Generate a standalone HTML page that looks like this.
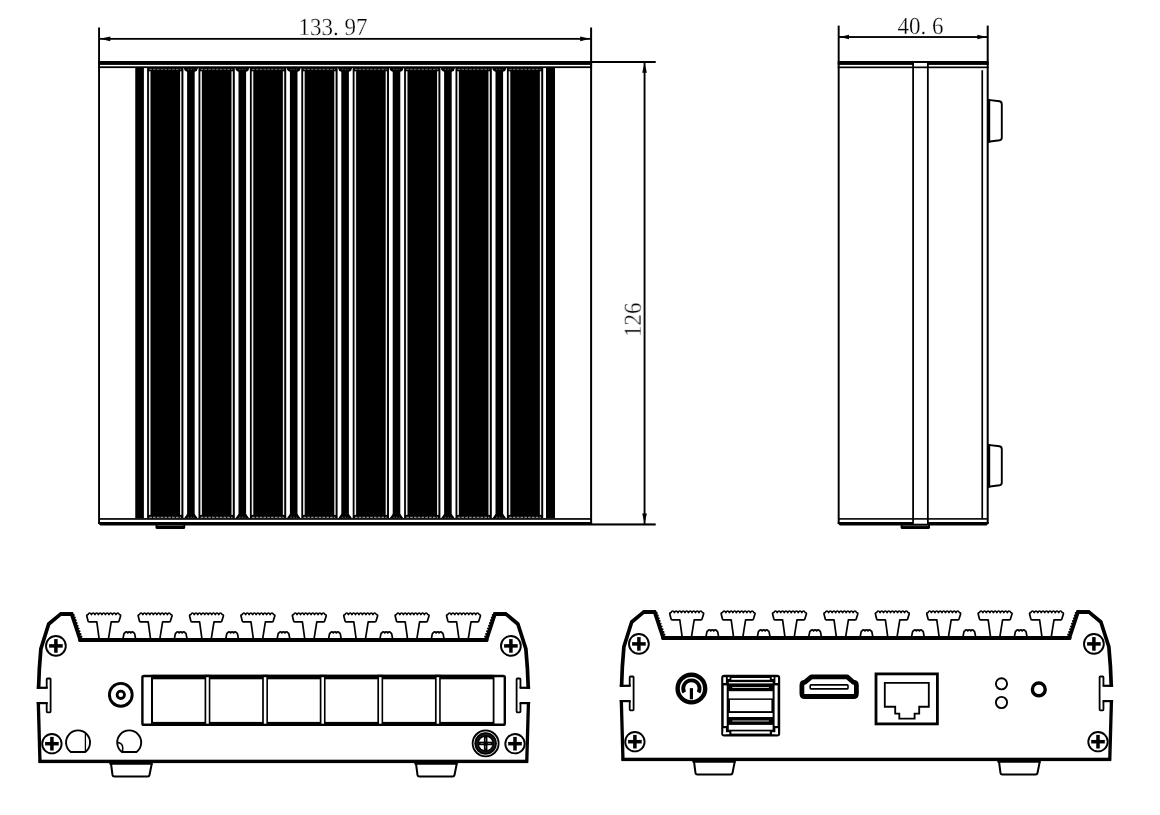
<!DOCTYPE html>
<html lang="en">
<head>
<meta charset="utf-8">
<title>Dimensions</title>
<style>
html,body{margin:0;padding:0;background:#fff;}
body{width:1160px;height:815px;overflow:hidden;position:relative;font-family:"Liberation Serif","Noto Serif CJK SC",serif;}
svg{position:absolute;left:0;top:0;display:block;}
.dim{font-family:"Liberation Serif","Noto Serif CJK SC",serif;fill:#000;stroke:#fff;stroke-width:0.28px;text-rendering:geometricPrecision;}
#txt{filter:grayscale(1);}
</style>
</head>
<body>
<svg width="1160" height="815" viewBox="0 0 1160 815">
<rect width="1160" height="815" fill="#fff"/>
<g transform="translate(0,0)">
<path d="M38.55 688.9 Q39.0 668 40.9 648.8 L48.7 624.0 L60.6 614.05 H71.7 L80.3 640.1 H486.3 L494.9 614.05 H506.0 L517.9 624.0 L525.85 648.8 Q527.75 668 528.3 688.9" fill="none" stroke="#000" stroke-width="3.7" stroke-linejoin="round" stroke-linecap="butt"/>
<path d="M80.0 640.0 H486.6" fill="none" stroke="#000" stroke-width="4.0" stroke-linecap="round"/>
<rect x="59.80" y="612.10" width="13.40" height="2.00" fill="#000" />
<rect x="493.40" y="612.10" width="13.40" height="2.00" fill="#000" />
<rect x="36.80" y="686.70" width="10.90" height="2.20" fill="#000" />
<rect x="36.80" y="702.00" width="10.90" height="2.20" fill="#000" />
<rect x="519.60" y="686.70" width="10.50" height="2.20" fill="#000" />
<rect x="519.60" y="702.00" width="10.50" height="2.20" fill="#000" />
<path d="M38.3 702.0 L40.0 762.8" fill="none" stroke="#000" stroke-width="3.3" />
<path d="M528.45 702.0 L526.75 762.8" fill="none" stroke="#000" stroke-width="3.3" />
<path d="M46.7 688 V679.3 Q46.7 678.5 47.5 678.5 H49.8 Q50.6 678.5 50.6 679.3 V711.6 Q50.6 712.4 49.8 712.4 H47.5 Q46.7 712.4 46.7 711.6 V703" fill="none" stroke="#000" stroke-width="1.8" />
<path d="M520.45 688 V679.3 Q520.45 678.5 519.65 678.5 H517.4 Q516.6 678.5 516.6 679.3 V711.6 Q516.6 712.4 517.4 712.4 H519.65 Q520.45 712.4 520.45 711.6 V703" fill="none" stroke="#000" stroke-width="1.8" />
<circle cx="73.78" cy="614.96" r="1.05" fill="#000" stroke="#000" stroke-width="0"/>
<circle cx="492.82" cy="614.96" r="1.05" fill="#000" stroke="#000" stroke-width="0"/>
<circle cx="74.73" cy="617.67" r="1.05" fill="#000" stroke="#000" stroke-width="0"/>
<circle cx="491.87" cy="617.67" r="1.05" fill="#000" stroke="#000" stroke-width="0"/>
<circle cx="75.69" cy="620.38" r="1.05" fill="#000" stroke="#000" stroke-width="0"/>
<circle cx="490.91" cy="620.38" r="1.05" fill="#000" stroke="#000" stroke-width="0"/>
<circle cx="76.64" cy="623.09" r="1.05" fill="#000" stroke="#000" stroke-width="0"/>
<circle cx="489.96" cy="623.09" r="1.05" fill="#000" stroke="#000" stroke-width="0"/>
<circle cx="77.60" cy="625.80" r="1.05" fill="#000" stroke="#000" stroke-width="0"/>
<circle cx="489.00" cy="625.80" r="1.05" fill="#000" stroke="#000" stroke-width="0"/>
<circle cx="78.56" cy="628.51" r="1.05" fill="#000" stroke="#000" stroke-width="0"/>
<circle cx="488.04" cy="628.51" r="1.05" fill="#000" stroke="#000" stroke-width="0"/>
<circle cx="79.51" cy="631.22" r="1.05" fill="#000" stroke="#000" stroke-width="0"/>
<circle cx="487.09" cy="631.22" r="1.05" fill="#000" stroke="#000" stroke-width="0"/>
<circle cx="80.47" cy="633.93" r="1.05" fill="#000" stroke="#000" stroke-width="0"/>
<circle cx="486.13" cy="633.93" r="1.05" fill="#000" stroke="#000" stroke-width="0"/>
<circle cx="81.42" cy="636.64" r="1.05" fill="#000" stroke="#000" stroke-width="0"/>
<circle cx="485.18" cy="636.64" r="1.05" fill="#000" stroke="#000" stroke-width="0"/>
<rect x="38.60" y="759.70" width="489.40" height="3.40" fill="#000" />
<path d="M99.10 638.6 L96.80 621.8 H89.10 Q88.20 621.8 88.00 620.8 L86.80 616.0 Q86.50 614.7 87.95 614.6 Q89.70 611.40 91.45 614.60 Q93.20 611.40 94.95 614.60 Q96.70 611.40 98.45 614.60 Q100.20 611.40 101.95 614.60 Q103.70 611.40 105.45 614.60 Q107.20 611.40 108.95 614.60 Q110.70 611.40 112.45 614.60 Q114.20 611.40 115.95 614.60 Q117.70 611.40 119.45 614.60 Q120.90 614.7 120.60 616.0 L119.10 620.8 Q118.90 621.8 118.00 621.8 H111.20 L108.50 638.6" fill="none" stroke="#000" stroke-width="1.7" stroke-linejoin="round"/>
<path d="M123.00 638.6 L123.90 634.0 Q124.10 632.9 124.80 632.9 Q126.30 630.90 127.80 632.90 Q129.30 630.90 130.80 632.90 Q132.30 630.90 133.80 632.90 Q134.50 632.9 134.70 634.0 L135.60 638.6" fill="none" stroke="#000" stroke-width="1.7" stroke-linejoin="round"/>
<path d="M150.50 638.6 L148.20 621.8 H140.50 Q139.60 621.8 139.40 620.8 L138.20 616.0 Q137.90 614.7 139.35 614.6 Q141.10 611.40 142.85 614.60 Q144.60 611.40 146.35 614.60 Q148.10 611.40 149.85 614.60 Q151.60 611.40 153.35 614.60 Q155.10 611.40 156.85 614.60 Q158.60 611.40 160.35 614.60 Q162.10 611.40 163.85 614.60 Q165.60 611.40 167.35 614.60 Q169.10 611.40 170.85 614.60 Q172.30 614.7 172.00 616.0 L170.50 620.8 Q170.30 621.8 169.40 621.8 H162.60 L159.90 638.6" fill="none" stroke="#000" stroke-width="1.7" stroke-linejoin="round"/>
<path d="M174.40 638.6 L175.30 634.0 Q175.50 632.9 176.20 632.9 Q177.70 630.90 179.20 632.90 Q180.70 630.90 182.20 632.90 Q183.70 630.90 185.20 632.90 Q185.90 632.9 186.10 634.0 L187.00 638.6" fill="none" stroke="#000" stroke-width="1.7" stroke-linejoin="round"/>
<path d="M201.90 638.6 L199.60 621.8 H191.90 Q191.00 621.8 190.80 620.8 L189.60 616.0 Q189.30 614.7 190.75 614.6 Q192.50 611.40 194.25 614.60 Q196.00 611.40 197.75 614.60 Q199.50 611.40 201.25 614.60 Q203.00 611.40 204.75 614.60 Q206.50 611.40 208.25 614.60 Q210.00 611.40 211.75 614.60 Q213.50 611.40 215.25 614.60 Q217.00 611.40 218.75 614.60 Q220.50 611.40 222.25 614.60 Q223.70 614.7 223.40 616.0 L221.90 620.8 Q221.70 621.8 220.80 621.8 H214.00 L211.30 638.6" fill="none" stroke="#000" stroke-width="1.7" stroke-linejoin="round"/>
<path d="M225.80 638.6 L226.70 634.0 Q226.90 632.9 227.60 632.9 Q229.10 630.90 230.60 632.90 Q232.10 630.90 233.60 632.90 Q235.10 630.90 236.60 632.90 Q237.30 632.9 237.50 634.0 L238.40 638.6" fill="none" stroke="#000" stroke-width="1.7" stroke-linejoin="round"/>
<path d="M253.30 638.6 L251.00 621.8 H243.30 Q242.40 621.8 242.20 620.8 L241.00 616.0 Q240.70 614.7 242.15 614.6 Q243.90 611.40 245.65 614.60 Q247.40 611.40 249.15 614.60 Q250.90 611.40 252.65 614.60 Q254.40 611.40 256.15 614.60 Q257.90 611.40 259.65 614.60 Q261.40 611.40 263.15 614.60 Q264.90 611.40 266.65 614.60 Q268.40 611.40 270.15 614.60 Q271.90 611.40 273.65 614.60 Q275.10 614.7 274.80 616.0 L273.30 620.8 Q273.10 621.8 272.20 621.8 H265.40 L262.70 638.6" fill="none" stroke="#000" stroke-width="1.7" stroke-linejoin="round"/>
<path d="M277.20 638.6 L278.10 634.0 Q278.30 632.9 279.00 632.9 Q280.50 630.90 282.00 632.90 Q283.50 630.90 285.00 632.90 Q286.50 630.90 288.00 632.90 Q288.70 632.9 288.90 634.0 L289.80 638.6" fill="none" stroke="#000" stroke-width="1.7" stroke-linejoin="round"/>
<path d="M304.70 638.6 L302.40 621.8 H294.70 Q293.80 621.8 293.60 620.8 L292.40 616.0 Q292.10 614.7 293.55 614.6 Q295.30 611.40 297.05 614.60 Q298.80 611.40 300.55 614.60 Q302.30 611.40 304.05 614.60 Q305.80 611.40 307.55 614.60 Q309.30 611.40 311.05 614.60 Q312.80 611.40 314.55 614.60 Q316.30 611.40 318.05 614.60 Q319.80 611.40 321.55 614.60 Q323.30 611.40 325.05 614.60 Q326.50 614.7 326.20 616.0 L324.70 620.8 Q324.50 621.8 323.60 621.8 H316.80 L314.10 638.6" fill="none" stroke="#000" stroke-width="1.7" stroke-linejoin="round"/>
<path d="M328.60 638.6 L329.50 634.0 Q329.70 632.9 330.40 632.9 Q331.90 630.90 333.40 632.90 Q334.90 630.90 336.40 632.90 Q337.90 630.90 339.40 632.90 Q340.10 632.9 340.30 634.0 L341.20 638.6" fill="none" stroke="#000" stroke-width="1.7" stroke-linejoin="round"/>
<path d="M356.10 638.6 L353.80 621.8 H346.10 Q345.20 621.8 345.00 620.8 L343.80 616.0 Q343.50 614.7 344.95 614.6 Q346.70 611.40 348.45 614.60 Q350.20 611.40 351.95 614.60 Q353.70 611.40 355.45 614.60 Q357.20 611.40 358.95 614.60 Q360.70 611.40 362.45 614.60 Q364.20 611.40 365.95 614.60 Q367.70 611.40 369.45 614.60 Q371.20 611.40 372.95 614.60 Q374.70 611.40 376.45 614.60 Q377.90 614.7 377.60 616.0 L376.10 620.8 Q375.90 621.8 375.00 621.8 H368.20 L365.50 638.6" fill="none" stroke="#000" stroke-width="1.7" stroke-linejoin="round"/>
<path d="M380.00 638.6 L380.90 634.0 Q381.10 632.9 381.80 632.9 Q383.30 630.90 384.80 632.90 Q386.30 630.90 387.80 632.90 Q389.30 630.90 390.80 632.90 Q391.50 632.9 391.70 634.0 L392.60 638.6" fill="none" stroke="#000" stroke-width="1.7" stroke-linejoin="round"/>
<path d="M407.50 638.6 L405.20 621.8 H397.50 Q396.60 621.8 396.40 620.8 L395.20 616.0 Q394.90 614.7 396.35 614.6 Q398.10 611.40 399.85 614.60 Q401.60 611.40 403.35 614.60 Q405.10 611.40 406.85 614.60 Q408.60 611.40 410.35 614.60 Q412.10 611.40 413.85 614.60 Q415.60 611.40 417.35 614.60 Q419.10 611.40 420.85 614.60 Q422.60 611.40 424.35 614.60 Q426.10 611.40 427.85 614.60 Q429.30 614.7 429.00 616.0 L427.50 620.8 Q427.30 621.8 426.40 621.8 H419.60 L416.90 638.6" fill="none" stroke="#000" stroke-width="1.7" stroke-linejoin="round"/>
<path d="M431.40 638.6 L432.30 634.0 Q432.50 632.9 433.20 632.9 Q434.70 630.90 436.20 632.90 Q437.70 630.90 439.20 632.90 Q440.70 630.90 442.20 632.90 Q442.90 632.9 443.10 634.0 L444.00 638.6" fill="none" stroke="#000" stroke-width="1.7" stroke-linejoin="round"/>
<path d="M458.90 638.6 L456.60 621.8 H448.90 Q448.00 621.8 447.80 620.8 L446.60 616.0 Q446.30 614.7 447.75 614.6 Q449.50 611.40 451.25 614.60 Q453.00 611.40 454.75 614.60 Q456.50 611.40 458.25 614.60 Q460.00 611.40 461.75 614.60 Q463.50 611.40 465.25 614.60 Q467.00 611.40 468.75 614.60 Q470.50 611.40 472.25 614.60 Q474.00 611.40 475.75 614.60 Q477.50 611.40 479.25 614.60 Q480.70 614.7 480.40 616.0 L478.90 620.8 Q478.70 621.8 477.80 621.8 H471.00 L468.30 638.6" fill="none" stroke="#000" stroke-width="1.7" stroke-linejoin="round"/>
<circle cx="55.90" cy="645.90" r="9.90" fill="#fff" stroke="#000" stroke-width="1.9"/>
<rect x="49.10" y="644.15" width="13.60" height="3.50" fill="#000" />
<rect x="54.15" y="639.10" width="3.50" height="13.60" fill="#000" />
<circle cx="51.90" cy="743.70" r="9.70" fill="#fff" stroke="#000" stroke-width="1.9"/>
<rect x="45.10" y="741.95" width="13.60" height="3.50" fill="#000" />
<rect x="50.15" y="736.90" width="3.50" height="13.60" fill="#000" />
<circle cx="510.90" cy="645.90" r="9.90" fill="#fff" stroke="#000" stroke-width="1.9"/>
<rect x="504.10" y="644.15" width="13.60" height="3.50" fill="#000" />
<rect x="509.15" y="639.10" width="3.50" height="13.60" fill="#000" />
<circle cx="515.00" cy="743.70" r="9.70" fill="#fff" stroke="#000" stroke-width="1.9"/>
<rect x="508.20" y="741.95" width="13.60" height="3.50" fill="#000" />
<rect x="513.25" y="736.90" width="3.50" height="13.60" fill="#000" />
<path d="M109.00 762.5 H153.10 L152.40 764.75 H109.70 Z" fill="#000" stroke="#000" stroke-width="0" />
<path d="M111.00 763.5 L112.50 775.0 Q112.80 776.6 114.40 776.6 H147.70 Q149.20 776.6 149.50 775.0 L151.80 763.5" fill="none" stroke="#000" stroke-width="2.0" />
<path d="M414.00 762.5 H458.10 L457.40 764.75 H414.70 Z" fill="#000" stroke="#000" stroke-width="0" />
<path d="M416.00 763.5 L417.50 775.0 Q417.80 776.6 419.40 776.6 H452.70 Q454.20 776.6 454.50 775.0 L456.80 763.5" fill="none" stroke="#000" stroke-width="2.0" />
</g>
<g id="front-left">
<rect x="142.40" y="676.00" width="362.40" height="48.80" rx="1.4" fill="none" stroke="#000" stroke-width="2.4"/>
<rect x="151.60" y="674.80" width="342.00" height="4.50" fill="#000" />
<rect x="151.60" y="721.90" width="342.00" height="4.10" fill="#000" />
<rect x="151.00" y="675.80" width="2.00" height="49.20" fill="#000" />
<rect x="492.70" y="675.80" width="1.80" height="49.20" fill="#000" />
<rect x="204.55" y="674.80" width="5.80" height="51.20" fill="#000" />
<rect x="206.25" y="677.20" width="2.50" height="46.50" fill="#fff" />
<rect x="262.15" y="674.80" width="5.80" height="51.20" fill="#000" />
<rect x="263.85" y="677.20" width="2.50" height="46.50" fill="#fff" />
<rect x="319.75" y="674.80" width="5.80" height="51.20" fill="#000" />
<rect x="321.45" y="677.20" width="2.50" height="46.50" fill="#fff" />
<rect x="377.35" y="674.80" width="5.80" height="51.20" fill="#000" />
<rect x="379.05" y="677.20" width="2.50" height="46.50" fill="#fff" />
<rect x="434.95" y="674.80" width="5.80" height="51.20" fill="#000" />
<rect x="436.65" y="677.20" width="2.50" height="46.50" fill="#fff" />
<circle cx="120.80" cy="694.80" r="11.40" fill="none" stroke="#000" stroke-width="2.9"/>
<circle cx="120.80" cy="694.80" r="3.70" fill="none" stroke="#000" stroke-width="2.8"/>
<path d="M70.78 751.95 A12.0 12.0 0 1 1 85.32 751.95 Z" fill="none" stroke="#000" stroke-width="1.9" />
<path d="M121.93 751.95 A12.0 12.0 0 1 1 136.47 751.95 Z" fill="none" stroke="#000" stroke-width="1.9" />
<path d="M85.4 733.4 V752.0" fill="none" stroke="#000" stroke-width="1.3" />
<path d="M117.5 742.4 Q122.5 742.9 122.75 747.6 L122.55 751.9" fill="none" stroke="#000" stroke-width="1.5" />
<circle cx="485.65" cy="743.45" r="13.90" fill="#000" stroke="#000" stroke-width="0"/>
<circle cx="485.65" cy="743.45" r="11.75" fill="none" stroke="#000" stroke-width="0"/>
<circle cx="485.65" cy="743.45" r="11.75" fill="none" stroke="#f4f4f4" stroke-width="0.9"/>
<circle cx="485.65" cy="743.45" r="8.9" fill="none" stroke="#444" stroke-width="0.5"/>
<circle cx="485.65" cy="743.45" r="6.8" fill="#fff"/>
<rect x="478.45" y="741.65" width="14.40" height="3.60" fill="#000" />
<rect x="483.85" y="736.25" width="3.60" height="14.40" fill="#000" />
<rect x="480.65" y="743.10" width="2.80" height="0.70" fill="#8a8a8a" />
<rect x="487.85" y="743.10" width="2.80" height="0.70" fill="#8a8a8a" />
<rect x="485.30" y="738.45" width="0.70" height="2.80" fill="#8a8a8a" />
<rect x="485.30" y="745.65" width="0.70" height="2.80" fill="#8a8a8a" />
</g>
<g transform="translate(583.0,-2.0)">
<path d="M38.55 688.9 Q39.0 668 40.9 648.8 L48.7 624.0 L60.6 614.05 H71.7 L80.3 640.1 H486.3 L494.9 614.05 H506.0 L517.9 624.0 L525.85 648.8 Q527.75 668 528.3 688.9" fill="none" stroke="#000" stroke-width="3.7" stroke-linejoin="round" stroke-linecap="butt"/>
<path d="M80.0 640.0 H486.6" fill="none" stroke="#000" stroke-width="4.0" stroke-linecap="round"/>
<rect x="59.80" y="612.10" width="13.40" height="2.00" fill="#000" />
<rect x="493.40" y="612.10" width="13.40" height="2.00" fill="#000" />
<rect x="36.80" y="686.70" width="10.90" height="2.20" fill="#000" />
<rect x="36.80" y="702.00" width="10.90" height="2.20" fill="#000" />
<rect x="519.60" y="686.70" width="10.50" height="2.20" fill="#000" />
<rect x="519.60" y="702.00" width="10.50" height="2.20" fill="#000" />
<path d="M38.3 702.0 L40.0 762.8" fill="none" stroke="#000" stroke-width="3.3" />
<path d="M528.45 702.0 L526.75 762.8" fill="none" stroke="#000" stroke-width="3.3" />
<path d="M46.7 688 V679.3 Q46.7 678.5 47.5 678.5 H49.8 Q50.6 678.5 50.6 679.3 V711.6 Q50.6 712.4 49.8 712.4 H47.5 Q46.7 712.4 46.7 711.6 V703" fill="none" stroke="#000" stroke-width="1.8" />
<path d="M520.45 688 V679.3 Q520.45 678.5 519.65 678.5 H517.4 Q516.6 678.5 516.6 679.3 V711.6 Q516.6 712.4 517.4 712.4 H519.65 Q520.45 712.4 520.45 711.6 V703" fill="none" stroke="#000" stroke-width="1.8" />
<circle cx="73.78" cy="614.96" r="1.05" fill="#000" stroke="#000" stroke-width="0"/>
<circle cx="492.82" cy="614.96" r="1.05" fill="#000" stroke="#000" stroke-width="0"/>
<circle cx="74.73" cy="617.67" r="1.05" fill="#000" stroke="#000" stroke-width="0"/>
<circle cx="491.87" cy="617.67" r="1.05" fill="#000" stroke="#000" stroke-width="0"/>
<circle cx="75.69" cy="620.38" r="1.05" fill="#000" stroke="#000" stroke-width="0"/>
<circle cx="490.91" cy="620.38" r="1.05" fill="#000" stroke="#000" stroke-width="0"/>
<circle cx="76.64" cy="623.09" r="1.05" fill="#000" stroke="#000" stroke-width="0"/>
<circle cx="489.96" cy="623.09" r="1.05" fill="#000" stroke="#000" stroke-width="0"/>
<circle cx="77.60" cy="625.80" r="1.05" fill="#000" stroke="#000" stroke-width="0"/>
<circle cx="489.00" cy="625.80" r="1.05" fill="#000" stroke="#000" stroke-width="0"/>
<circle cx="78.56" cy="628.51" r="1.05" fill="#000" stroke="#000" stroke-width="0"/>
<circle cx="488.04" cy="628.51" r="1.05" fill="#000" stroke="#000" stroke-width="0"/>
<circle cx="79.51" cy="631.22" r="1.05" fill="#000" stroke="#000" stroke-width="0"/>
<circle cx="487.09" cy="631.22" r="1.05" fill="#000" stroke="#000" stroke-width="0"/>
<circle cx="80.47" cy="633.93" r="1.05" fill="#000" stroke="#000" stroke-width="0"/>
<circle cx="486.13" cy="633.93" r="1.05" fill="#000" stroke="#000" stroke-width="0"/>
<circle cx="81.42" cy="636.64" r="1.05" fill="#000" stroke="#000" stroke-width="0"/>
<circle cx="485.18" cy="636.64" r="1.05" fill="#000" stroke="#000" stroke-width="0"/>
<rect x="38.60" y="759.70" width="489.40" height="3.40" fill="#000" />
<path d="M99.10 638.6 L96.80 621.8 H89.10 Q88.20 621.8 88.00 620.8 L86.80 616.0 Q86.50 614.7 87.95 614.6 Q89.70 611.40 91.45 614.60 Q93.20 611.40 94.95 614.60 Q96.70 611.40 98.45 614.60 Q100.20 611.40 101.95 614.60 Q103.70 611.40 105.45 614.60 Q107.20 611.40 108.95 614.60 Q110.70 611.40 112.45 614.60 Q114.20 611.40 115.95 614.60 Q117.70 611.40 119.45 614.60 Q120.90 614.7 120.60 616.0 L119.10 620.8 Q118.90 621.8 118.00 621.8 H111.20 L108.50 638.6" fill="none" stroke="#000" stroke-width="1.7" stroke-linejoin="round"/>
<path d="M123.00 638.6 L123.90 634.0 Q124.10 632.9 124.80 632.9 Q126.30 630.90 127.80 632.90 Q129.30 630.90 130.80 632.90 Q132.30 630.90 133.80 632.90 Q134.50 632.9 134.70 634.0 L135.60 638.6" fill="none" stroke="#000" stroke-width="1.7" stroke-linejoin="round"/>
<path d="M150.50 638.6 L148.20 621.8 H140.50 Q139.60 621.8 139.40 620.8 L138.20 616.0 Q137.90 614.7 139.35 614.6 Q141.10 611.40 142.85 614.60 Q144.60 611.40 146.35 614.60 Q148.10 611.40 149.85 614.60 Q151.60 611.40 153.35 614.60 Q155.10 611.40 156.85 614.60 Q158.60 611.40 160.35 614.60 Q162.10 611.40 163.85 614.60 Q165.60 611.40 167.35 614.60 Q169.10 611.40 170.85 614.60 Q172.30 614.7 172.00 616.0 L170.50 620.8 Q170.30 621.8 169.40 621.8 H162.60 L159.90 638.6" fill="none" stroke="#000" stroke-width="1.7" stroke-linejoin="round"/>
<path d="M174.40 638.6 L175.30 634.0 Q175.50 632.9 176.20 632.9 Q177.70 630.90 179.20 632.90 Q180.70 630.90 182.20 632.90 Q183.70 630.90 185.20 632.90 Q185.90 632.9 186.10 634.0 L187.00 638.6" fill="none" stroke="#000" stroke-width="1.7" stroke-linejoin="round"/>
<path d="M201.90 638.6 L199.60 621.8 H191.90 Q191.00 621.8 190.80 620.8 L189.60 616.0 Q189.30 614.7 190.75 614.6 Q192.50 611.40 194.25 614.60 Q196.00 611.40 197.75 614.60 Q199.50 611.40 201.25 614.60 Q203.00 611.40 204.75 614.60 Q206.50 611.40 208.25 614.60 Q210.00 611.40 211.75 614.60 Q213.50 611.40 215.25 614.60 Q217.00 611.40 218.75 614.60 Q220.50 611.40 222.25 614.60 Q223.70 614.7 223.40 616.0 L221.90 620.8 Q221.70 621.8 220.80 621.8 H214.00 L211.30 638.6" fill="none" stroke="#000" stroke-width="1.7" stroke-linejoin="round"/>
<path d="M225.80 638.6 L226.70 634.0 Q226.90 632.9 227.60 632.9 Q229.10 630.90 230.60 632.90 Q232.10 630.90 233.60 632.90 Q235.10 630.90 236.60 632.90 Q237.30 632.9 237.50 634.0 L238.40 638.6" fill="none" stroke="#000" stroke-width="1.7" stroke-linejoin="round"/>
<path d="M253.30 638.6 L251.00 621.8 H243.30 Q242.40 621.8 242.20 620.8 L241.00 616.0 Q240.70 614.7 242.15 614.6 Q243.90 611.40 245.65 614.60 Q247.40 611.40 249.15 614.60 Q250.90 611.40 252.65 614.60 Q254.40 611.40 256.15 614.60 Q257.90 611.40 259.65 614.60 Q261.40 611.40 263.15 614.60 Q264.90 611.40 266.65 614.60 Q268.40 611.40 270.15 614.60 Q271.90 611.40 273.65 614.60 Q275.10 614.7 274.80 616.0 L273.30 620.8 Q273.10 621.8 272.20 621.8 H265.40 L262.70 638.6" fill="none" stroke="#000" stroke-width="1.7" stroke-linejoin="round"/>
<path d="M277.20 638.6 L278.10 634.0 Q278.30 632.9 279.00 632.9 Q280.50 630.90 282.00 632.90 Q283.50 630.90 285.00 632.90 Q286.50 630.90 288.00 632.90 Q288.70 632.9 288.90 634.0 L289.80 638.6" fill="none" stroke="#000" stroke-width="1.7" stroke-linejoin="round"/>
<path d="M304.70 638.6 L302.40 621.8 H294.70 Q293.80 621.8 293.60 620.8 L292.40 616.0 Q292.10 614.7 293.55 614.6 Q295.30 611.40 297.05 614.60 Q298.80 611.40 300.55 614.60 Q302.30 611.40 304.05 614.60 Q305.80 611.40 307.55 614.60 Q309.30 611.40 311.05 614.60 Q312.80 611.40 314.55 614.60 Q316.30 611.40 318.05 614.60 Q319.80 611.40 321.55 614.60 Q323.30 611.40 325.05 614.60 Q326.50 614.7 326.20 616.0 L324.70 620.8 Q324.50 621.8 323.60 621.8 H316.80 L314.10 638.6" fill="none" stroke="#000" stroke-width="1.7" stroke-linejoin="round"/>
<path d="M328.60 638.6 L329.50 634.0 Q329.70 632.9 330.40 632.9 Q331.90 630.90 333.40 632.90 Q334.90 630.90 336.40 632.90 Q337.90 630.90 339.40 632.90 Q340.10 632.9 340.30 634.0 L341.20 638.6" fill="none" stroke="#000" stroke-width="1.7" stroke-linejoin="round"/>
<path d="M356.10 638.6 L353.80 621.8 H346.10 Q345.20 621.8 345.00 620.8 L343.80 616.0 Q343.50 614.7 344.95 614.6 Q346.70 611.40 348.45 614.60 Q350.20 611.40 351.95 614.60 Q353.70 611.40 355.45 614.60 Q357.20 611.40 358.95 614.60 Q360.70 611.40 362.45 614.60 Q364.20 611.40 365.95 614.60 Q367.70 611.40 369.45 614.60 Q371.20 611.40 372.95 614.60 Q374.70 611.40 376.45 614.60 Q377.90 614.7 377.60 616.0 L376.10 620.8 Q375.90 621.8 375.00 621.8 H368.20 L365.50 638.6" fill="none" stroke="#000" stroke-width="1.7" stroke-linejoin="round"/>
<path d="M380.00 638.6 L380.90 634.0 Q381.10 632.9 381.80 632.9 Q383.30 630.90 384.80 632.90 Q386.30 630.90 387.80 632.90 Q389.30 630.90 390.80 632.90 Q391.50 632.9 391.70 634.0 L392.60 638.6" fill="none" stroke="#000" stroke-width="1.7" stroke-linejoin="round"/>
<path d="M407.50 638.6 L405.20 621.8 H397.50 Q396.60 621.8 396.40 620.8 L395.20 616.0 Q394.90 614.7 396.35 614.6 Q398.10 611.40 399.85 614.60 Q401.60 611.40 403.35 614.60 Q405.10 611.40 406.85 614.60 Q408.60 611.40 410.35 614.60 Q412.10 611.40 413.85 614.60 Q415.60 611.40 417.35 614.60 Q419.10 611.40 420.85 614.60 Q422.60 611.40 424.35 614.60 Q426.10 611.40 427.85 614.60 Q429.30 614.7 429.00 616.0 L427.50 620.8 Q427.30 621.8 426.40 621.8 H419.60 L416.90 638.6" fill="none" stroke="#000" stroke-width="1.7" stroke-linejoin="round"/>
<path d="M431.40 638.6 L432.30 634.0 Q432.50 632.9 433.20 632.9 Q434.70 630.90 436.20 632.90 Q437.70 630.90 439.20 632.90 Q440.70 630.90 442.20 632.90 Q442.90 632.9 443.10 634.0 L444.00 638.6" fill="none" stroke="#000" stroke-width="1.7" stroke-linejoin="round"/>
<path d="M458.90 638.6 L456.60 621.8 H448.90 Q448.00 621.8 447.80 620.8 L446.60 616.0 Q446.30 614.7 447.75 614.6 Q449.50 611.40 451.25 614.60 Q453.00 611.40 454.75 614.60 Q456.50 611.40 458.25 614.60 Q460.00 611.40 461.75 614.60 Q463.50 611.40 465.25 614.60 Q467.00 611.40 468.75 614.60 Q470.50 611.40 472.25 614.60 Q474.00 611.40 475.75 614.60 Q477.50 611.40 479.25 614.60 Q480.70 614.7 480.40 616.0 L478.90 620.8 Q478.70 621.8 477.80 621.8 H471.00 L468.30 638.6" fill="none" stroke="#000" stroke-width="1.7" stroke-linejoin="round"/>
<circle cx="55.90" cy="645.90" r="9.90" fill="#fff" stroke="#000" stroke-width="1.9"/>
<rect x="49.10" y="644.15" width="13.60" height="3.50" fill="#000" />
<rect x="54.15" y="639.10" width="3.50" height="13.60" fill="#000" />
<circle cx="51.90" cy="743.70" r="9.70" fill="#fff" stroke="#000" stroke-width="1.9"/>
<rect x="45.10" y="741.95" width="13.60" height="3.50" fill="#000" />
<rect x="50.15" y="736.90" width="3.50" height="13.60" fill="#000" />
<circle cx="510.90" cy="645.90" r="9.90" fill="#fff" stroke="#000" stroke-width="1.9"/>
<rect x="504.10" y="644.15" width="13.60" height="3.50" fill="#000" />
<rect x="509.15" y="639.10" width="3.50" height="13.60" fill="#000" />
<circle cx="515.00" cy="743.70" r="9.70" fill="#fff" stroke="#000" stroke-width="1.9"/>
<rect x="508.20" y="741.95" width="13.60" height="3.50" fill="#000" />
<rect x="513.25" y="736.90" width="3.50" height="13.60" fill="#000" />
<path d="M109.00 762.5 H153.10 L152.40 764.75 H109.70 Z" fill="#000" stroke="#000" stroke-width="0" />
<path d="M111.00 763.5 L112.50 775.0 Q112.80 776.6 114.40 776.6 H147.70 Q149.20 776.6 149.50 775.0 L151.80 763.5" fill="none" stroke="#000" stroke-width="2.0" />
<path d="M414.00 762.5 H458.10 L457.40 764.75 H414.70 Z" fill="#000" stroke="#000" stroke-width="0" />
<path d="M416.00 763.5 L417.50 775.0 Q417.80 776.6 419.40 776.6 H452.70 Q454.20 776.6 454.50 775.0 L456.80 763.5" fill="none" stroke="#000" stroke-width="2.0" />
</g>
<g id="front-right">
<circle cx="691.40" cy="688.55" r="13.80" fill="none" stroke="#000" stroke-width="4.4"/>
<path d="M684.23 692.53 A8.2 8.2 0 1 1 698.57 692.53" fill="none" stroke="#000" stroke-width="3.8" />
<rect x="689.80" y="688.15" width="3.20" height="11.20" fill="#000" />
<rect x="722.2" y="675.8" width="57.0" height="59.80000000000007" rx="2" fill="#000" stroke="#000" stroke-width="2"/>
<rect x="723.30" y="677.20" width="2.60" height="5.80" fill="#fff" />
<rect x="775.40" y="677.20" width="2.60" height="5.80" fill="#fff" />
<rect x="727.80" y="677.20" width="1.80" height="1.80" fill="#fff" />
<rect x="771.80" y="677.20" width="1.80" height="1.80" fill="#fff" />
<rect x="723.70" y="685.40" width="3.00" height="40.60" fill="#fff" />
<rect x="774.60" y="685.40" width="3.00" height="40.60" fill="#fff" />
<rect x="723.30" y="728.20" width="2.60" height="6.00" fill="#fff" />
<rect x="775.40" y="728.20" width="2.60" height="6.00" fill="#fff" />
<rect x="723.30" y="732.20" width="6.00" height="2.00" fill="#fff" />
<rect x="772.00" y="732.20" width="6.00" height="2.00" fill="#fff" />
<rect x="731.40" y="678.00" width="38.40" height="1.80" fill="#fff" />
<rect x="731.40" y="731.40" width="38.40" height="2.20" fill="#fff" />
<rect x="728.80" y="682.10" width="43.80" height="1.30" fill="#fff" />
<rect x="732.30" y="687.10" width="36.60" height="0.90" fill="#ddd" />
<rect x="728.80" y="691.20" width="43.80" height="7.20" fill="#fff" />
<rect x="730.00" y="699.90" width="41.40" height="11.20" fill="#fff" />
<rect x="728.80" y="713.00" width="43.80" height="4.00" fill="#fff" />
<rect x="732.30" y="720.30" width="36.60" height="1.30" fill="#999" />
<rect x="728.80" y="724.90" width="43.80" height="4.80" fill="#fff" />
<path d="M811.4 676.9 H847.2 L853.4 682.2 Q856.4 682.4 856.4 685.4 V693.4 Q856.4 696.5 853.4 696.5 H805.0 Q801.9 696.5 801.9 693.4 V685.4 Q801.9 682.4 805.0 682.2 Z" fill="none" stroke="#000" stroke-width="4.8" stroke-linejoin="round"/>
<rect x="810.2" y="684.9" width="37.8" height="4.0" rx="0.8" fill="#fff" stroke="#000" stroke-width="1.6"/>
<rect x="876.0" y="673.9" width="61.4" height="50.0" fill="none" stroke="#000" stroke-width="2.8"/>
<path d="M884.8 682.9 H928.8 V706.7 H919.2 V713.6 H914.6 V718.6 H899.3 V713.6 H895.2 V706.7 H884.8 Z" fill="none" stroke="#000" stroke-width="1.85" />
<circle cx="1001.50" cy="683.80" r="5.60" fill="none" stroke="#000" stroke-width="1.9"/>
<circle cx="1001.50" cy="702.50" r="5.60" fill="none" stroke="#000" stroke-width="1.9"/>
<circle cx="1038.80" cy="689.40" r="6.40" fill="none" stroke="#000" stroke-width="3.4"/>
</g>
<g id="top-view">
<rect x="98.10" y="27.50" width="1.90" height="496.50" fill="#000" />
<rect x="590.10" y="27.50" width="2.00" height="497.50" fill="#000" />
<rect x="99.00" y="37.95" width="492.00" height="1.80" fill="#000" />
<polygon points="100.00,38.85 110.30,36.40 110.30,41.30" fill="#000"/>
<polygon points="590.00,38.85 580.20,36.40 580.20,41.30" fill="#000"/>
<rect x="98.10" y="61.00" width="494.00" height="3.90" fill="#000" />
<rect x="98.10" y="66.30" width="494.00" height="1.80" fill="#000" />
<rect x="99.00" y="518.10" width="492.00" height="1.70" fill="#000" />
<path d="M98.1 521.9 H592.1 V525.5 H100.3 L98.1 523.6 Z" fill="#000" stroke="#000" stroke-width="0" />
<path d="M155.5 525 H185.2 V527.4 Q185.2 529 183.6 529 H157.1 Q155.5 529 155.5 527.4 Z" fill="#000" stroke="#000" stroke-width="0" />
<rect x="157.60" y="525.40" width="25.60" height="0.50" fill="#999" />
<rect x="135.25" y="68.00" width="8.65" height="450.20" fill="#000" />
<rect x="546.00" y="68.00" width="9.00" height="450.20" fill="#000" />
<rect x="147.10" y="68.00" width="36.30" height="450.20" fill="#000" />
<rect x="148.90" y="71.30" width="1.60" height="443.60" fill="#ececec" />
<rect x="180.05" y="71.30" width="1.40" height="443.60" fill="#ececec" />
<line x1="149.30" y1="69.3" x2="181.00" y2="69.3" stroke="#ccc" stroke-width="0.6" stroke-dasharray="2.6 1.2"/>
<line x1="149.30" y1="517.3" x2="181.00" y2="517.3" stroke="#ddd" stroke-width="0.8" stroke-dasharray="2.6 1.2"/>
<rect x="187.10" y="68.00" width="7.60" height="450.20" fill="#000" />
<path d="M183.80 68.0 H198.00 Q197.50 71.2 194.70 71.8 H187.10 Q184.30 71.2 183.80 68.0 Z" fill="#000" stroke="#000" stroke-width="0" />
<line x1="187.70" y1="69.3" x2="194.10" y2="69.3" stroke="#aaa" stroke-width="0.5" stroke-dasharray="1.4 1.4"/>
<path d="M184.10 518.2 H197.70 L194.70 514 H187.10 Z" fill="#000" stroke="#000" stroke-width="0" />
<line x1="187.70" y1="517.3" x2="194.10" y2="517.3" stroke="#aaa" stroke-width="0.6" stroke-dasharray="1.4 1.4"/>
<rect x="198.50" y="68.00" width="36.30" height="450.20" fill="#000" />
<rect x="200.30" y="71.30" width="1.60" height="443.60" fill="#ececec" />
<rect x="231.45" y="71.30" width="1.40" height="443.60" fill="#ececec" />
<line x1="200.70" y1="69.3" x2="232.40" y2="69.3" stroke="#ccc" stroke-width="0.6" stroke-dasharray="2.6 1.2"/>
<line x1="200.70" y1="517.3" x2="232.40" y2="517.3" stroke="#ddd" stroke-width="0.8" stroke-dasharray="2.6 1.2"/>
<rect x="238.50" y="68.00" width="7.60" height="450.20" fill="#000" />
<path d="M235.20 68.0 H249.40 Q248.90 71.2 246.10 71.8 H238.50 Q235.70 71.2 235.20 68.0 Z" fill="#000" stroke="#000" stroke-width="0" />
<line x1="239.10" y1="69.3" x2="245.50" y2="69.3" stroke="#aaa" stroke-width="0.5" stroke-dasharray="1.4 1.4"/>
<path d="M235.50 518.2 H249.10 L246.10 514 H238.50 Z" fill="#000" stroke="#000" stroke-width="0" />
<line x1="239.10" y1="517.3" x2="245.50" y2="517.3" stroke="#aaa" stroke-width="0.6" stroke-dasharray="1.4 1.4"/>
<rect x="249.90" y="68.00" width="36.30" height="450.20" fill="#000" />
<rect x="251.70" y="71.30" width="1.60" height="443.60" fill="#ececec" />
<rect x="282.85" y="71.30" width="1.40" height="443.60" fill="#ececec" />
<line x1="252.10" y1="69.3" x2="283.80" y2="69.3" stroke="#ccc" stroke-width="0.6" stroke-dasharray="2.6 1.2"/>
<line x1="252.10" y1="517.3" x2="283.80" y2="517.3" stroke="#ddd" stroke-width="0.8" stroke-dasharray="2.6 1.2"/>
<rect x="289.90" y="68.00" width="7.60" height="450.20" fill="#000" />
<path d="M286.60 68.0 H300.80 Q300.30 71.2 297.50 71.8 H289.90 Q287.10 71.2 286.60 68.0 Z" fill="#000" stroke="#000" stroke-width="0" />
<line x1="290.50" y1="69.3" x2="296.90" y2="69.3" stroke="#aaa" stroke-width="0.5" stroke-dasharray="1.4 1.4"/>
<path d="M286.90 518.2 H300.50 L297.50 514 H289.90 Z" fill="#000" stroke="#000" stroke-width="0" />
<line x1="290.50" y1="517.3" x2="296.90" y2="517.3" stroke="#aaa" stroke-width="0.6" stroke-dasharray="1.4 1.4"/>
<rect x="301.30" y="68.00" width="36.30" height="450.20" fill="#000" />
<rect x="303.10" y="71.30" width="1.60" height="443.60" fill="#ececec" />
<rect x="334.25" y="71.30" width="1.40" height="443.60" fill="#ececec" />
<line x1="303.50" y1="69.3" x2="335.20" y2="69.3" stroke="#ccc" stroke-width="0.6" stroke-dasharray="2.6 1.2"/>
<line x1="303.50" y1="517.3" x2="335.20" y2="517.3" stroke="#ddd" stroke-width="0.8" stroke-dasharray="2.6 1.2"/>
<rect x="341.30" y="68.00" width="7.60" height="450.20" fill="#000" />
<path d="M338.00 68.0 H352.20 Q351.70 71.2 348.90 71.8 H341.30 Q338.50 71.2 338.00 68.0 Z" fill="#000" stroke="#000" stroke-width="0" />
<line x1="341.90" y1="69.3" x2="348.30" y2="69.3" stroke="#aaa" stroke-width="0.5" stroke-dasharray="1.4 1.4"/>
<path d="M338.30 518.2 H351.90 L348.90 514 H341.30 Z" fill="#000" stroke="#000" stroke-width="0" />
<line x1="341.90" y1="517.3" x2="348.30" y2="517.3" stroke="#aaa" stroke-width="0.6" stroke-dasharray="1.4 1.4"/>
<rect x="352.70" y="68.00" width="36.30" height="450.20" fill="#000" />
<rect x="354.50" y="71.30" width="1.60" height="443.60" fill="#ececec" />
<rect x="385.65" y="71.30" width="1.40" height="443.60" fill="#ececec" />
<line x1="354.90" y1="69.3" x2="386.60" y2="69.3" stroke="#ccc" stroke-width="0.6" stroke-dasharray="2.6 1.2"/>
<line x1="354.90" y1="517.3" x2="386.60" y2="517.3" stroke="#ddd" stroke-width="0.8" stroke-dasharray="2.6 1.2"/>
<rect x="392.70" y="68.00" width="7.60" height="450.20" fill="#000" />
<path d="M389.40 68.0 H403.60 Q403.10 71.2 400.30 71.8 H392.70 Q389.90 71.2 389.40 68.0 Z" fill="#000" stroke="#000" stroke-width="0" />
<line x1="393.30" y1="69.3" x2="399.70" y2="69.3" stroke="#aaa" stroke-width="0.5" stroke-dasharray="1.4 1.4"/>
<path d="M389.70 518.2 H403.30 L400.30 514 H392.70 Z" fill="#000" stroke="#000" stroke-width="0" />
<line x1="393.30" y1="517.3" x2="399.70" y2="517.3" stroke="#aaa" stroke-width="0.6" stroke-dasharray="1.4 1.4"/>
<rect x="404.10" y="68.00" width="36.30" height="450.20" fill="#000" />
<rect x="405.90" y="71.30" width="1.60" height="443.60" fill="#ececec" />
<rect x="437.05" y="71.30" width="1.40" height="443.60" fill="#ececec" />
<line x1="406.30" y1="69.3" x2="438.00" y2="69.3" stroke="#ccc" stroke-width="0.6" stroke-dasharray="2.6 1.2"/>
<line x1="406.30" y1="517.3" x2="438.00" y2="517.3" stroke="#ddd" stroke-width="0.8" stroke-dasharray="2.6 1.2"/>
<rect x="444.10" y="68.00" width="7.60" height="450.20" fill="#000" />
<path d="M440.80 68.0 H455.00 Q454.50 71.2 451.70 71.8 H444.10 Q441.30 71.2 440.80 68.0 Z" fill="#000" stroke="#000" stroke-width="0" />
<line x1="444.70" y1="69.3" x2="451.10" y2="69.3" stroke="#aaa" stroke-width="0.5" stroke-dasharray="1.4 1.4"/>
<path d="M441.10 518.2 H454.70 L451.70 514 H444.10 Z" fill="#000" stroke="#000" stroke-width="0" />
<line x1="444.70" y1="517.3" x2="451.10" y2="517.3" stroke="#aaa" stroke-width="0.6" stroke-dasharray="1.4 1.4"/>
<rect x="455.50" y="68.00" width="36.30" height="450.20" fill="#000" />
<rect x="457.30" y="71.30" width="1.60" height="443.60" fill="#ececec" />
<rect x="488.45" y="71.30" width="1.40" height="443.60" fill="#ececec" />
<line x1="457.70" y1="69.3" x2="489.40" y2="69.3" stroke="#ccc" stroke-width="0.6" stroke-dasharray="2.6 1.2"/>
<line x1="457.70" y1="517.3" x2="489.40" y2="517.3" stroke="#ddd" stroke-width="0.8" stroke-dasharray="2.6 1.2"/>
<rect x="495.50" y="68.00" width="7.60" height="450.20" fill="#000" />
<path d="M492.20 68.0 H506.40 Q505.90 71.2 503.10 71.8 H495.50 Q492.70 71.2 492.20 68.0 Z" fill="#000" stroke="#000" stroke-width="0" />
<line x1="496.10" y1="69.3" x2="502.50" y2="69.3" stroke="#aaa" stroke-width="0.5" stroke-dasharray="1.4 1.4"/>
<path d="M492.50 518.2 H506.10 L503.10 514 H495.50 Z" fill="#000" stroke="#000" stroke-width="0" />
<line x1="496.10" y1="517.3" x2="502.50" y2="517.3" stroke="#aaa" stroke-width="0.6" stroke-dasharray="1.4 1.4"/>
<rect x="506.90" y="68.00" width="36.30" height="450.20" fill="#000" />
<rect x="508.70" y="71.30" width="1.60" height="443.60" fill="#ececec" />
<rect x="539.85" y="71.30" width="1.40" height="443.60" fill="#ececec" />
<line x1="509.10" y1="69.3" x2="540.80" y2="69.3" stroke="#ccc" stroke-width="0.6" stroke-dasharray="2.6 1.2"/>
<line x1="509.10" y1="517.3" x2="540.80" y2="517.3" stroke="#ddd" stroke-width="0.8" stroke-dasharray="2.6 1.2"/>
<rect x="592.00" y="61.00" width="63.70" height="2.00" fill="#000" />
<rect x="592.00" y="523.40" width="63.70" height="2.10" fill="#000" />
<rect x="643.60" y="62.00" width="1.90" height="462.00" fill="#000" />
<polygon points="644.55,63.00 642.20,72.80 646.90,72.80" fill="#000"/>
<polygon points="644.55,523.40 642.20,513.60 646.90,513.60" fill="#000"/>
</g>
<g id="side-view">
<rect x="837.70" y="25.60" width="1.95" height="498.00" fill="#000" />
<rect x="986.70" y="25.60" width="2.00" height="498.00" fill="#000" />
<rect x="838.50" y="36.10" width="149.00" height="1.85" fill="#000" />
<polygon points="839.60,37.00 849.00,34.70 849.00,39.30" fill="#000"/>
<polygon points="986.80,37.00 977.40,34.70 977.40,39.30" fill="#000"/>
<rect x="837.70" y="61.00" width="151.00" height="3.90" fill="#000" />
<rect x="913.90" y="63.00" width="13.10" height="2.00" fill="#fff" />
<rect x="837.70" y="66.50" width="151.00" height="1.70" fill="#000" />
<rect x="912.20" y="63.00" width="1.80" height="461.00" fill="#000" />
<rect x="926.95" y="63.00" width="1.80" height="461.00" fill="#000" />
<rect x="981.40" y="70.20" width="1.70" height="449.00" fill="#000" />
<rect x="838.50" y="518.10" width="149.50" height="1.60" fill="#000" />
<path d="M837.7 521.9 H988.7 V523.6 L986.5 525.6 H839.9 L837.7 523.6 Z" fill="#000" stroke="#000" stroke-width="0" />
<rect x="913.90" y="521.00" width="13.10" height="2.70" fill="#fff" />
<path d="M900.6 525 H930 V527.4 Q930 529 928.4 529 H902.2 Q900.6 529 900.6 527.4 Z" fill="#000" stroke="#000" stroke-width="0" />
<rect x="902.60" y="525.60" width="25.40" height="0.50" fill="#999" />
<rect x="987.20" y="99.00" width="3.00" height="43.60" fill="#000" />
<path d="M988 99.90 L999.6 101.30 Q1001.8 101.80 1001.8 104.20 V137.40 Q1001.8 139.80 999.6 140.30 L988 141.70" fill="none" stroke="#000" stroke-width="1.9" />
<rect x="987.20" y="444.00" width="3.00" height="43.60" fill="#000" />
<path d="M988 444.90 L999.6 446.30 Q1001.8 446.80 1001.8 449.20 V482.40 Q1001.8 484.80 999.6 485.30 L988 486.70" fill="none" stroke="#000" stroke-width="1.9" />
</g>
<!--FRONT-->
<g id="txt">
<text class="dim" transform="translate(298.5 35.1) scale(1 1.065)" font-size="23" xml:space="preserve">133. 97</text>
<text class="dim" transform="translate(897.6 34.1) scale(1 1.065)" font-size="23" xml:space="preserve">40. 6</text>
<text class="dim" transform="translate(641.2 337.05) rotate(-90) scale(1 1.065)" font-size="23">126</text>
</g>
</svg>
</body>
</html>
